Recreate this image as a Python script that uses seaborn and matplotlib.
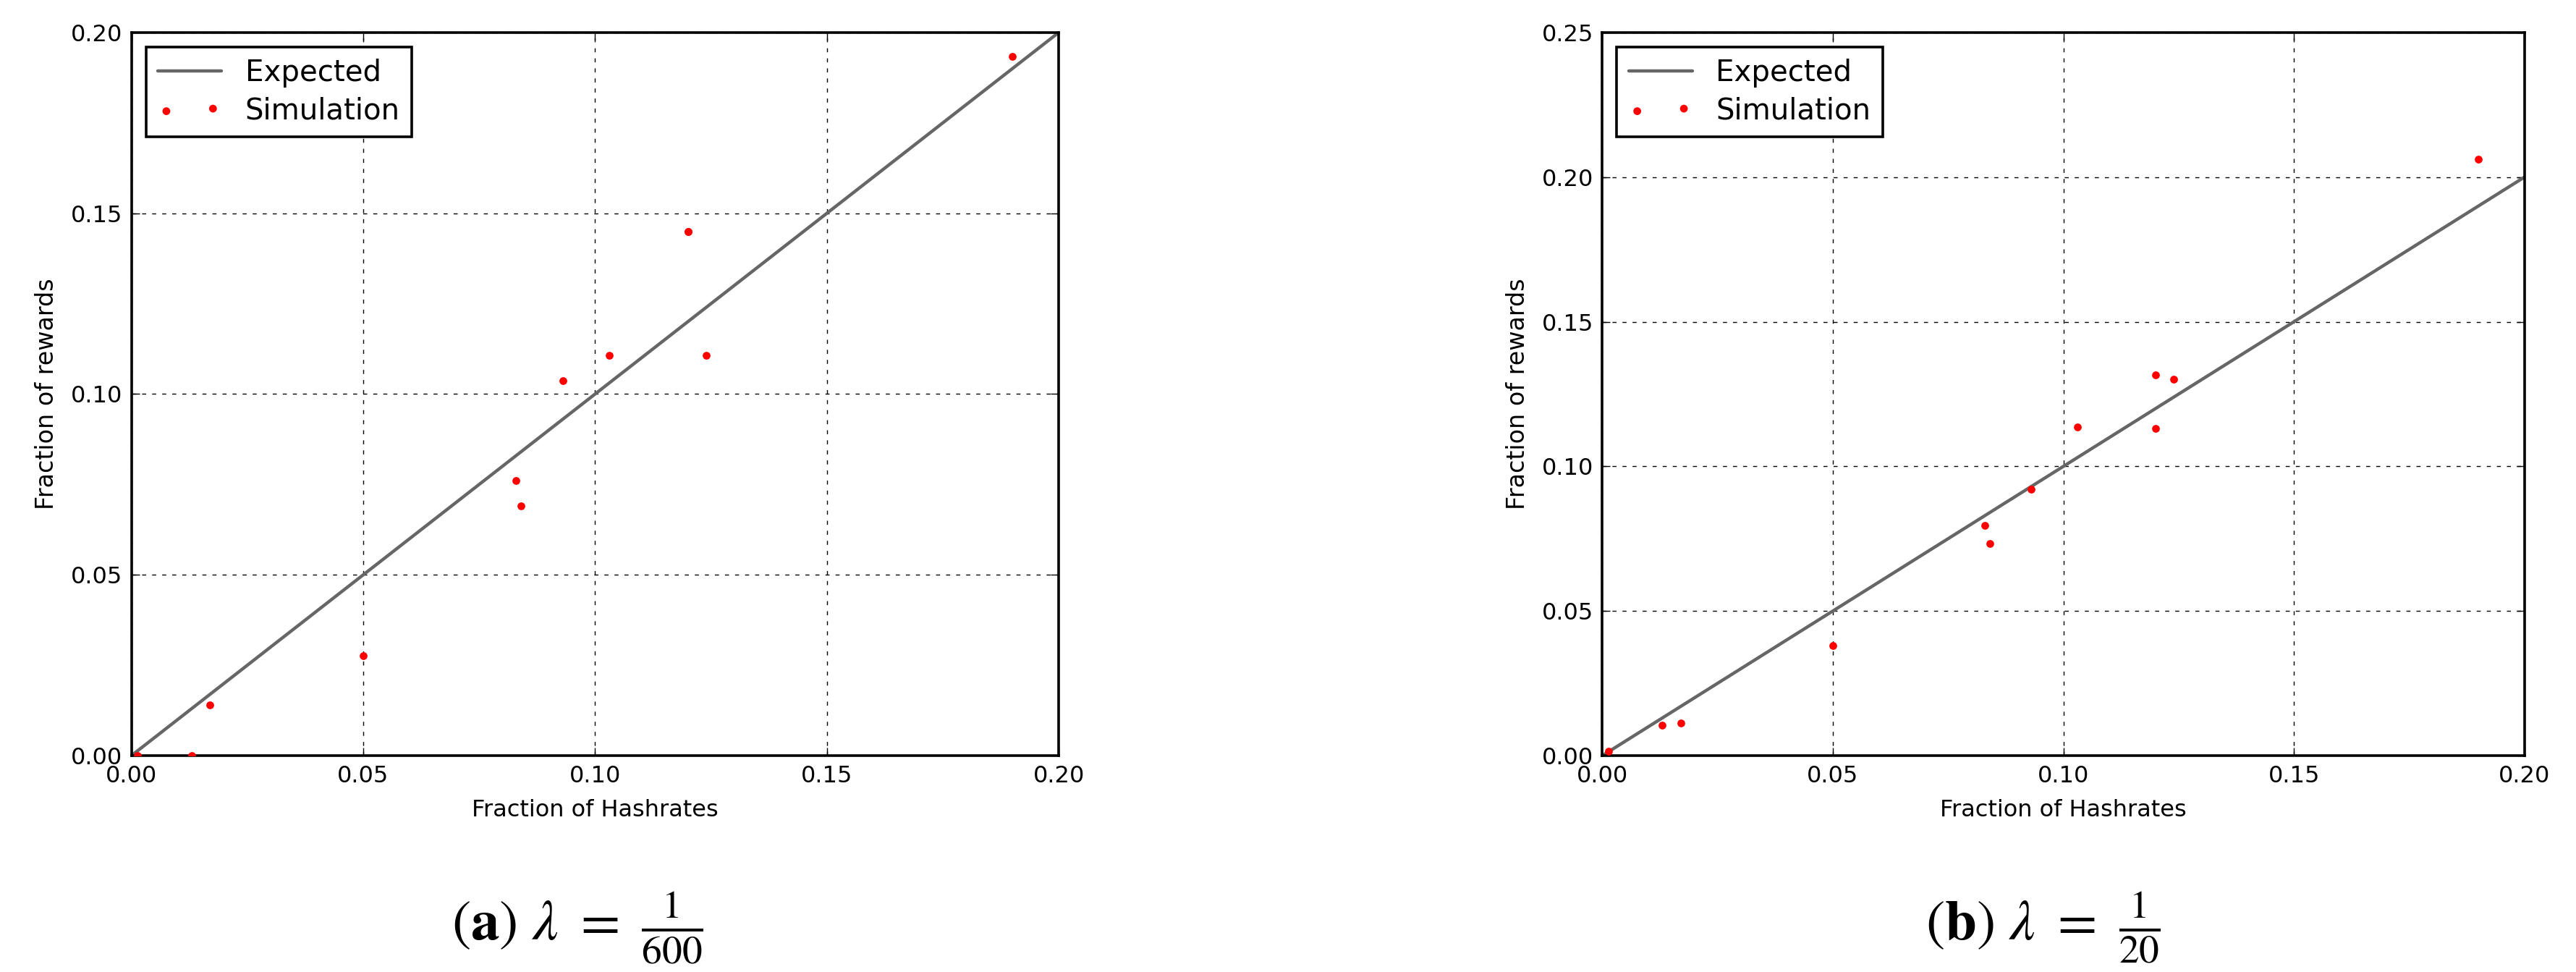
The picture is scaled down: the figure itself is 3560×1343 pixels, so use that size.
import matplotlib
matplotlib.use('Agg')
import matplotlib.pyplot as plt
import seaborn as sns
from matplotlib.ticker import FormatStrFormatter

# fraction of total hashrate of each miner (same miners in both runs)
hashrates = [0.0013, 0.013, 0.017, 0.05, 0.083, 0.084, 0.093, 0.103, 0.12, 0.12, 0.124, 0.19]
# fraction of rewards obtained in the simulation
rewards_600 = [0.0, 0.0, 0.014, 0.0276, 0.076, 0.069, 0.1037, 0.1106, 0.145, 0.145, 0.1106, 0.1934]
rewards_20 = [0.0016, 0.0104, 0.0113, 0.0381, 0.0795, 0.0733, 0.092, 0.1135, 0.1315, 0.1132, 0.1301, 0.2061]
# expected line y = x
expected = [0.0, 0.2]

x_ticks = [0.0, 0.05, 0.10, 0.15, 0.20]
y_ticks_600 = [0.0, 0.05, 0.10, 0.15, 0.20]
y_ticks_20 = [0.0, 0.05, 0.10, 0.15, 0.20, 0.25]

captions = [r'$(\mathbf{a})\ \lambda\ =\ \frac{1}{600}$',
            r'$(\mathbf{b})\ \lambda\ =\ \frac{1}{20}$']
caption_x = [0.224, 0.793]

sns.set_style('white')
plt.rcParams['font.family'] = ['DejaVu Sans']
plt.rcParams['mathtext.fontset'] = 'stix'
plt.rcParams['text.color'] = 'black'
plt.rcParams['axes.labelcolor'] = 'black'
plt.rcParams['xtick.color'] = 'black'
plt.rcParams['ytick.color'] = 'black'

fig = plt.figure(figsize=(35.6, 13.43), dpi=100)
ax_a = fig.add_axes([0.051, 0.2226, 0.360, 0.744])
ax_b = fig.add_axes([0.622, 0.2226, 0.358, 0.744])

panels = [(ax_a, rewards_600, y_ticks_600, captions[0], caption_x[0]),
          (ax_b, rewards_20, y_ticks_20, captions[1], caption_x[1])]

for ax, rewards, y_ticks, caption, cx in panels:
    sns.lineplot(x=expected, y=expected, color='#666666', linewidth=3.2,
                 label='Expected', ax=ax)
    sns.scatterplot(x=hashrates, y=rewards, color='red', s=60, linewidth=0,
                    label='Simulation', ax=ax, zorder=3)
    ax.set_xlim(0, 0.2)
    ax.set_ylim(y_ticks[0], y_ticks[-1])
    ax.set_xticks(x_ticks)
    ax.set_yticks(y_ticks)
    ax.xaxis.set_major_formatter(FormatStrFormatter('%.2f'))
    ax.yaxis.set_major_formatter(FormatStrFormatter('%.2f'))
    ax.grid(True, color='black', linestyle=(0, (4, 6)), linewidth=1.0)
    ax.set_axisbelow(True)
    ax.tick_params(direction='in', top=True, right=True, bottom=True, left=True,
                   length=8, width=1, labelsize=23, pad=9)
    for sp in ax.spines.values():
        sp.set_color('black')
        sp.set_linewidth(2.6)
    ax.set_xlabel('Fraction of Hashrates', fontsize=23, labelpad=12)
    ax.set_ylabel('Fraction of rewards', fontsize=24, labelpad=12)
    leg = ax.legend(loc='upper left', fontsize=29, scatterpoints=2, frameon=True,
                    fancybox=False, borderaxespad=0.5, handlelength=2.2,
                    handletextpad=0.8, borderpad=0.4, labelspacing=0.3)
    leg.get_frame().set_edgecolor('black')
    leg.get_frame().set_linewidth(2.6)
    leg.get_frame().set_alpha(1)
    fig.text(cx, 0.046, caption, fontsize=57, ha='center', va='center')

fig.savefig('out.png', dpi=100)
